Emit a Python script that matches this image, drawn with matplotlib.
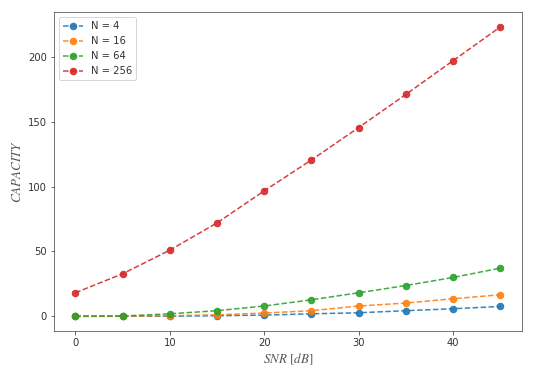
import matplotlib
matplotlib.use("Agg")
import matplotlib.pyplot as plt

plt.rcParams["mathtext.fontset"] = "stix"

snr = [0, 5, 10, 15, 20, 25, 30, 35, 40, 45]
cap_4 = [0.0, 0.1, 0.2, 0.5, 1.0, 2.0, 2.8, 4.4, 5.9, 7.7]
cap_16 = [0.1, 0.2, 0.5, 1.2, 2.6, 4.4, 8.0, 10.3, 13.6, 16.7]
cap_64 = [0.2, 0.3, 2.0, 4.4, 8.0, 12.8, 18.2, 23.8, 30.0, 37.2]
cap_256 = [18.2, 32.8, 51.0, 72.0, 96.7, 120.5, 145.5, 171.0, 197.0, 223.0]
labels = ["N = 4", "N = 16", "N = 64", "N = 256"]

fig, ax = plt.subplots(figsize=(535 / 72, 376 / 72), dpi=72)
for cap, lab in zip([cap_4, cap_16, cap_64, cap_256], labels):
    ax.plot(snr, cap, "o--", label=lab, markersize=6.5, alpha=0.9)

ax.set_xlabel(r"$SNR\ [dB]$", fontsize=13, color="#555555")
ax.set_ylabel(r"$CAPACITY$", fontsize=13, color="#555555")
ax.tick_params(colors="#444444", labelcolor="#333333")
for sp in ax.spines.values():
    sp.set_color("#555555")
leg = ax.legend(loc="upper left")
for t in leg.get_texts():
    t.set_color("#333333")
fig.subplots_adjust(left=0.101, right=0.975, top=0.967, bottom=0.12)
fig.savefig("out.png", dpi=72)
